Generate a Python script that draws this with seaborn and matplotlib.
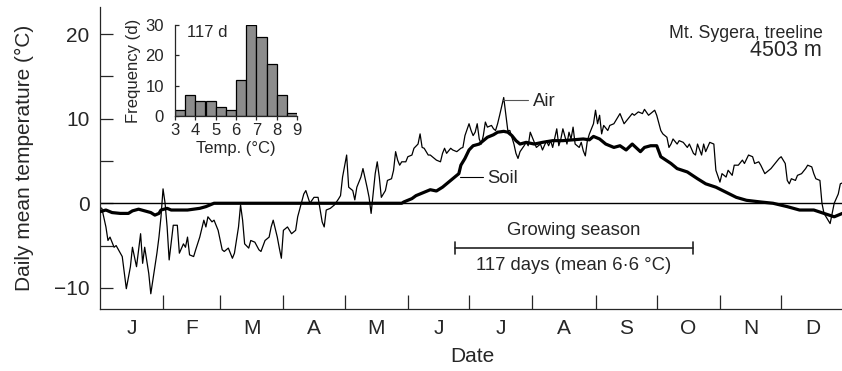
import numpy as np
import pandas as pd
import matplotlib
matplotlib.use("Agg")
import matplotlib.pyplot as plt
import seaborn as sns

# Daily mean air temperature at the treeline station (day of year, °C)
air_day = [0, 1, 3, 4, 5, 7, 8, 11, 13, 15, 16, 18, 20, 21, 22, 24, 25, 26, 28, 29,
           30, 31, 32, 33, 34, 36, 38, 39, 41, 42, 43, 44, 46, 47, 49, 51, 52, 53, 55, 56,
           58, 60, 61, 63, 65, 66, 68, 69, 70, 71, 73, 74, 76, 78, 79, 81, 83, 84, 85, 87,
           88, 89, 90, 91, 92, 94, 96, 97, 100, 101, 103, 105, 107, 109, 110, 111, 113, 115, 117, 118,
           119, 121, 122, 124, 125, 126, 128, 129, 131, 132, 133, 134, 135, 136, 137, 138, 140, 141, 143, 144,
           145, 146, 147, 148, 150, 151, 153, 154, 156, 157, 158, 159, 161, 162, 163, 165, 167, 168, 169, 170,
           172, 173, 175, 177, 178, 179, 181, 182, 183, 184, 185, 186, 187, 188, 189, 190, 192, 193, 194, 195,
           196, 198, 199, 200, 201, 203, 204, 205, 206, 208, 209, 210, 211, 213, 214, 216, 217, 219, 220, 221,
           222, 224, 225, 226, 227, 229, 230, 231, 232, 233, 235, 236, 237, 238, 239, 240, 242, 243, 244, 245,
           246, 247, 249, 250, 252, 253, 255, 256, 257, 259, 261, 262, 264, 266, 267, 269, 271, 272, 273, 275,
           276, 278, 279, 280, 281, 283, 284, 286, 288, 289, 291, 292, 293, 295, 296, 297, 299, 301, 302, 304,
           305, 307, 308, 310, 311, 313, 315, 316, 318, 320, 321, 323, 324, 326, 328, 329, 331, 333, 334, 336,
           337, 338, 339, 341, 342, 344, 346, 347, 349, 350, 351, 353, 354, 355, 356, 358, 359, 360, 362, 363,
           364]
air_temp = [-0.5, -0.6, -2.8, -4.4, -4.0, -5.2, -5.0, -6.3, -10.1, -7.5, -5.2, -7.5, -3.6, -7.1, -5.2, -8.3, -10.7, -9.1, -5.9, -4.0,
            -1.6, 1.7, 0.0, -2.8, -6.7, -2.6, -2.6, -5.9, -4.8, -5.2, -4.0, -6.1, -6.3, -5.5, -4.0, -2.0, -2.8, -1.6, -2.2, -2.0,
            -3.2, -5.5, -5.7, -5.3, -6.5, -5.9, -2.8, -0.2, -2.0, -4.8, -5.3, -4.4, -4.6, -5.5, -5.7, -4.4, -4.0, -2.8, -2.0, -4.0,
            -5.3, -6.5, -3.2, -3.0, -2.8, -3.6, -3.2, -1.6, 1.1, 1.5, 0.0, 0.7, 0.7, -2.2, -2.8, -0.8, -0.6, -0.2, 0.5, 0.9,
            3.1, 5.7, 1.9, 1.5, 0.4, 1.9, 3.1, 4.1, 1.9, 0.7, -1.2, 1.1, 3.5, 4.9, 3.1, 0.7, 1.5, 2.7, 2.9, 3.9,
            6.1, 5.1, 4.5, 4.9, 4.9, 5.5, 5.7, 6.5, 7.0, 8.2, 6.6, 6.5, 5.7, 5.7, 5.5, 5.1, 4.9, 5.9, 6.5, 5.9,
            6.5, 6.3, 6.1, 6.5, 6.6, 8.0, 9.4, 8.6, 8.0, 8.4, 9.4, 7.6, 7.0, 8.0, 9.6, 9.0, 9.2, 8.8, 8.6, 9.4,
            10.4, 12.5, 10.6, 8.6, 8.6, 7.0, 5.9, 5.3, 6.1, 6.8, 7.2, 6.8, 8.4, 7.2, 6.6, 7.0, 6.3, 7.4, 6.8, 7.4,
            6.6, 8.8, 6.8, 7.6, 8.8, 7.0, 8.4, 7.6, 9.0, 7.0, 6.6, 7.2, 6.2, 5.6, 7.4, 8.2, 9.4, 11.0, 9.4, 10.4,
            8.2, 9.2, 8.6, 9.2, 9.4, 9.8, 10.6, 10.0, 9.4, 10.0, 10.6, 10.4, 10.8, 10.6, 11.1, 10.4, 10.8, 11.0, 10.4, 8.6,
            8.2, 7.8, 6.6, 7.0, 7.6, 7.0, 7.4, 7.2, 6.6, 7.0, 5.9, 5.7, 7.0, 5.7, 7.0, 6.1, 7.2, 7.0, 3.9, 2.5,
            3.5, 3.1, 3.9, 3.3, 4.5, 4.5, 5.1, 4.7, 5.7, 5.5, 4.7, 4.9, 4.5, 3.5, 3.9, 4.1, 4.7, 5.3, 5.5, 4.7,
            2.7, 2.3, 2.9, 2.7, 3.3, 3.5, 4.1, 4.5, 4.3, 3.5, 2.9, 2.7, 0.0, -1.2, -1.6, -2.4, -1.2, 0.0, 1.1, 2.3,
            2.4]

# Daily mean soil temperature (day of year, °C)
soil_day = [0, 3, 6, 10, 14, 16, 19, 22, 25, 27, 29, 30, 33, 35, 38, 43, 49, 52, 54, 56,
            148, 149, 153, 155, 159, 162, 165, 168, 172, 174, 176, 177, 179, 181, 183, 186, 188, 190, 193, 195,
            198, 200, 202, 204, 206, 209, 213, 217, 222, 227, 232, 237, 240, 242, 245, 248, 252, 255, 258, 261,
            265, 267, 270, 273, 275, 280, 283, 288, 293, 297, 302, 307, 312, 317, 324, 330, 337, 343, 350, 355,
            360, 364]
soil_temp = [-1.0, -0.8, -1.1, -1.2, -1.2, -0.9, -0.7, -0.9, -1.1, -1.4, -1.2, -0.8, -0.6, -0.8, -0.8, -0.8, -0.6, -0.4, -0.2, 0.0,
             0.0, 0.15, 0.55, 0.9, 1.3, 1.6, 1.45, 1.9, 2.7, 3.1, 3.5, 4.5, 5.3, 6.3, 6.8, 7.0, 7.4, 7.8, 8.1, 8.4,
             8.5, 8.4, 8.0, 7.4, 7.0, 7.2, 7.0, 7.2, 7.4, 7.4, 7.5, 7.6, 7.5, 7.9, 7.6, 7.0, 6.6, 6.8, 6.3, 7.0,
             6.1, 6.6, 6.8, 6.8, 5.5, 4.7, 4.1, 3.7, 2.9, 2.3, 1.9, 1.3, 0.7, 0.35, 0.15, 0.0, -0.4, -0.8, -0.8, -1.2,
             -1.6, -1.2]

# Calendar
month_labels = ["J", "F", "M", "A", "M", "J", "J", "A", "S", "O", "N", "D"]
month_starts = [0, 31, 59, 90, 120, 151, 181, 212, 243, 273, 304, 334, 365]

# Growing-season soil temperature frequency (0.5 °C classes)
hist_edges = [3.0, 3.5, 4.0, 4.5, 5.0, 5.5, 6.0, 6.5, 7.0, 7.5, 8.0, 8.5, 9.0]
hist_counts = [2, 7, 5, 5, 3, 2, 12, 30, 26, 17, 7, 1]

season_start = 174
season_days = 117
season_mean = 6.6
peak_day = 198
peak_temp = 12.5

sns.set_style("ticks")
plt.rcParams["font.family"] = ["Liberation Sans", "DejaVu Sans"]
plt.rcParams["axes.linewidth"] = 0.9

W, H = 842, 371
fig = plt.figure(figsize=(W / 100, H / 100), dpi=100)
ax = fig.add_axes([99.8 / W, 1 - 309 / H, (844.4 - 99.8) / W, 302 / H])

air = pd.DataFrame({"day": air_day, "temp": air_temp})
soil = pd.DataFrame({"day": soil_day, "temp": soil_temp})

ax.axhline(0, color="black", lw=1.0, zorder=1)
sns.lineplot(data=air, x="day", y="temp", ax=ax, color="black", lw=0.9,
             estimator=None, zorder=2)
sns.lineplot(data=soil, x="day", y="temp", ax=ax, color="black", lw=2.3,
             estimator=None, zorder=3)

ax.set_xlim(0, 365)
ax.set_ylim(-12.5, 23.2)
ax.spines[["top", "right"]].set_visible(False)

ax.set_yticks([-10, 0, 10, 20])
ax.set_yticklabels(["\u221210", "0", "10", "20"])
ax.set_yticks([-5, 5, 15], minor=True)
ax.tick_params(axis="y", which="both", direction="in", length=9, width=0.9,
               labelsize=15, pad=7.5)

mids = [(a + b) / 2 for a, b in zip(month_starts[:-1], month_starts[1:])]
ax.set_xticks(month_starts[1:-1])
ax.set_xticklabels([])
ax.set_xticks(mids, minor=True)
ax.set_xticklabels(month_labels, minor=True)
ax.tick_params(axis="x", which="major", direction="in", length=10, width=0.9)
ax.tick_params(axis="x", which="minor", length=0, labelsize=15, pad=7)

ax.set_xlabel("Date", fontsize=15, labelpad=7)
ax.set_ylabel("Daily mean temperature (\u00b0C)", fontsize=15, labelpad=14)

# Labels for the two series
ax.plot([peak_day - 0.4, peak_day + 12], [12.2, 12.2], color="#555555", lw=0.8)
ax.text(peak_day + 14.5, 12.0, "Air", fontsize=13.3, va="center", ha="left")
ax.plot([176.6, 188.0], [3.1, 3.1], color="black", lw=0.8)
ax.text(189.7, 2.9, "Soil", fontsize=13.3, va="center", ha="left")

# Growing season bar
season_end = season_start + season_days
bar_y = -5.3
ax.plot([season_start, season_end], [bar_y, bar_y], color="#222222", lw=1.2)
for d in (season_start, season_end):
    ax.plot([d, d], [bar_y - 0.7, bar_y + 0.7], color="#222222", lw=1.2)
mid = (season_start + season_end) / 2
ax.text(mid, -3.2, "Growing season", fontsize=13.3, ha="center", va="center")
ax.text(mid, -7.3, f"{season_days} days (mean {season_mean:.1f} \u00b0C)".replace(".", "\u00b7"),
        fontsize=13.3, ha="center", va="center")

# Site label
fig.text(823 / W, 1 - 37.5 / H, "Mt. Sygera, treeline", ha="right", va="baseline", fontsize=12.8)
fig.text(822 / W, 1 - 56 / H, "4503 m", ha="right", va="baseline", fontsize=15.5)

# Inset histogram of growing-season temperatures
ax_in = fig.add_axes([175 / W, 1 - 116 / H, 122 / W, 91 / H])
ax_in.patch.set_alpha(0)
edges = np.array(hist_edges)
centers = (edges[:-1] + edges[1:]) / 2
sns.histplot(x=centers, weights=hist_counts, bins=hist_edges, ax=ax_in,
             color="#8c8c8c", edgecolor="black", linewidth=0.9, alpha=1)
ax_in.set_xlim(3, 9)
ax_in.set_ylim(0, 30)
ax_in.spines[["top", "right"]].set_visible(False)
ax_in.set_xticks(range(3, 10))
ax_in.set_yticks([0, 10, 20, 30])
ax_in.tick_params(axis="y", direction="in", length=3, width=0.9, labelsize=12, pad=8)
ax_in.tick_params(axis="x", direction="out", length=3, width=0.9, labelsize=12, pad=2)
ax_in.set_xlabel("Temp. (\u00b0C)", fontsize=12, labelpad=2)
ax_in.set_ylabel("Frequency (d)", fontsize=12, labelpad=3)
ax_in.text(3.6, 27.4, f"{sum(hist_counts)} d", fontsize=12, va="center", ha="left")

fig.savefig("out.png", dpi=100)
